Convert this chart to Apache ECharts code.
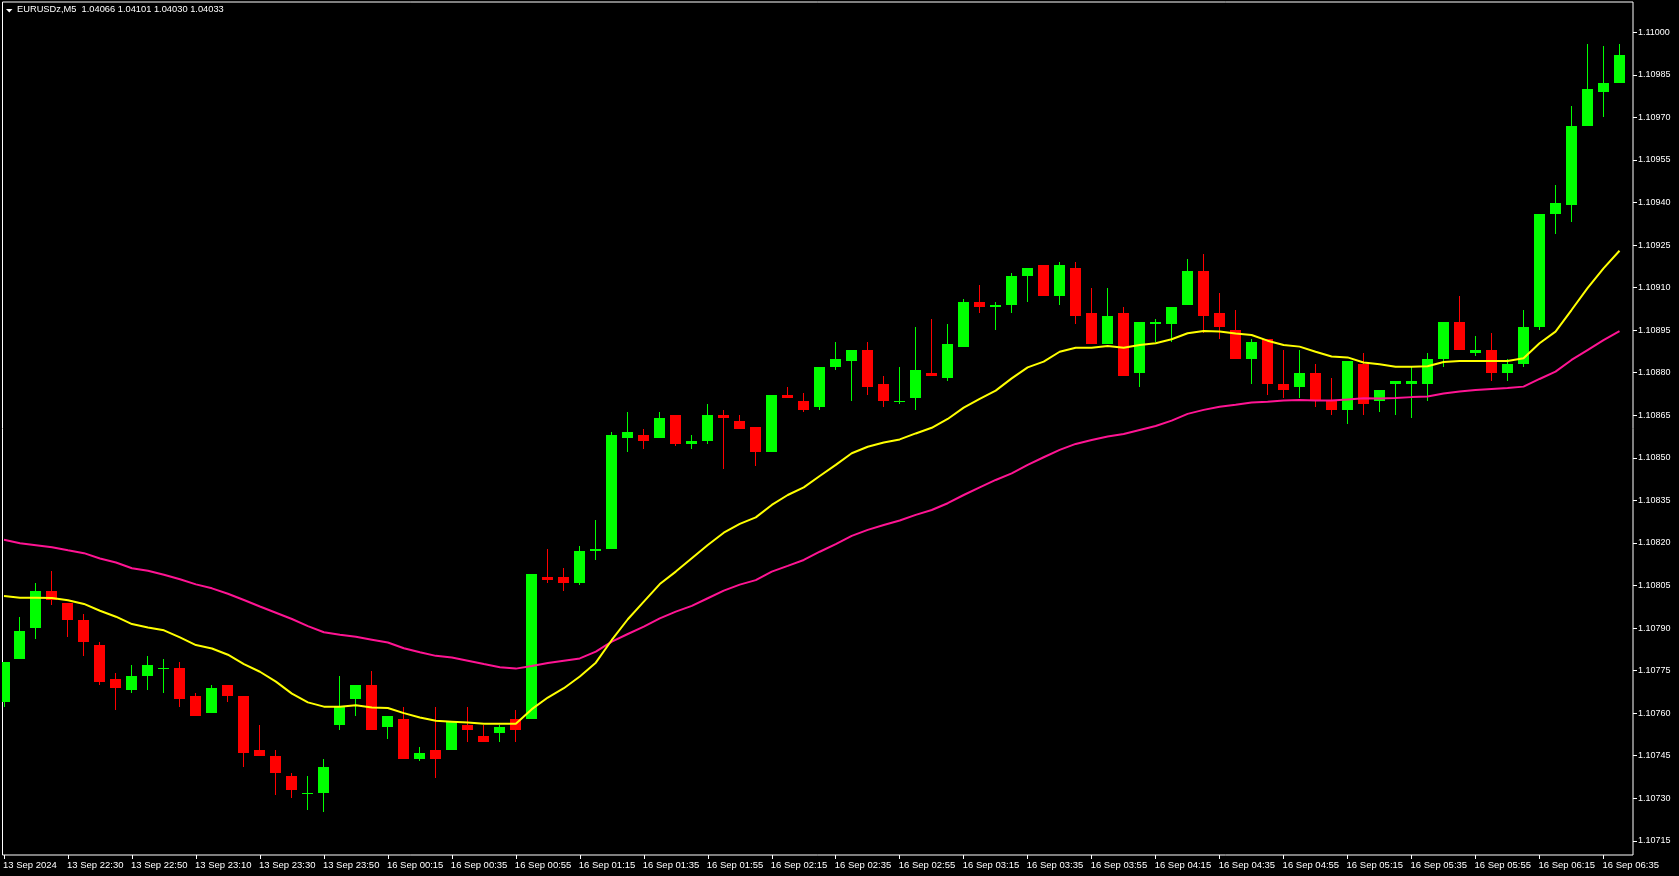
<!DOCTYPE html>
<html>
<head>
<meta charset="utf-8">
<script src="https://cdn.jsdelivr.net/npm/echarts@6.0.0/dist/echarts.min.js"></script>
<style>
html,body{margin:0;padding:0;background:#000;}
#chart{width:1679px;height:876px;}
</style>
</head>
<body>
<div id="chart"></div>
<script>
// ---- data (EURUSDz, M5) ----
const headerText = "EURUSDz,M5  1.04066 1.04101 1.04030 1.04033";

const xTickLabels = ["13 Sep 2024","13 Sep 22:30","13 Sep 22:50","13 Sep 23:10","13 Sep 23:30","13 Sep 23:50",
  "16 Sep 00:15","16 Sep 00:35","16 Sep 00:55","16 Sep 01:15","16 Sep 01:35","16 Sep 01:55","16 Sep 02:15",
  "16 Sep 02:35","16 Sep 02:55","16 Sep 03:15","16 Sep 03:35","16 Sep 03:55","16 Sep 04:15","16 Sep 04:35",
  "16 Sep 04:55","16 Sep 05:15","16 Sep 05:35","16 Sep 05:55","16 Sep 06:15","16 Sep 06:35"];
const barsPerXTick = 4;

const yTickLabels = ["1.10715","1.10730","1.10745","1.10760","1.10775","1.10790","1.10805","1.10820","1.10835",
  "1.10850","1.10865","1.10880","1.10895","1.10910","1.10925","1.10940","1.10955","1.10970","1.10985","1.11000"];

const opens = [
1.10764,1.10779,1.10790,1.10803,1.10799,1.10793,1.10784,1.10772,1.10768,1.10773,
1.10776,1.10776,1.10766,1.10760,1.10770,1.10766,1.10747,1.10745,1.10738,1.10732,
1.10732,1.10756,1.10765,1.10770,1.10755,1.10758,1.10744,1.10747,1.10747,1.10756,
1.10752,1.10753,1.10758,1.10758,1.10808,1.10808,1.10806,1.10817,1.10818,1.10857,
1.10858,1.10857,1.10865,1.10855,1.10856,1.10865,1.10863,1.10861,1.10852,1.10872,
1.10870,1.10868,1.10882,1.10884,1.10888,1.10876,1.10870,1.10871,1.10880,1.10878,
1.10889,1.10905,1.10903,1.10904,1.10914,1.10918,1.10907,1.10917,1.10901,1.10890,
1.10901,1.10880,1.10897,1.10897,1.10904,1.10916,1.10901,1.10895,1.10885,1.10892,
1.10876,1.10875,1.10880,1.10870,1.10867,1.10883,1.10870,1.10876,1.10876,1.10876,
1.10885,1.10898,1.10887,1.10888,1.10880,1.10883,1.10896,1.10936,1.10939,1.10967,
1.10979,1.10982];

const closes = [
1.10778,1.10789,1.10803,1.10800,1.10793,1.10785,1.10771,1.10769,1.10773,1.10777,
1.10776,1.10765,1.10759,1.10769,1.10766,1.10746,1.10745,1.10739,1.10733,1.10732,
1.10741,1.10762,1.10770,1.10754,1.10759,1.10744,1.10746,1.10744,1.10757,1.10754,
1.10750,1.10755,1.10754,1.10809,1.10807,1.10806,1.10817,1.10818,1.10858,1.10859,
1.10856,1.10864,1.10855,1.10856,1.10865,1.10864,1.10860,1.10852,1.10872,1.10871,
1.10867,1.10882,1.10885,1.10888,1.10875,1.10870,1.10870,1.10881,1.10879,1.10890,
1.10905,1.10903,1.10904,1.10914,1.10917,1.10907,1.10918,1.10900,1.10890,1.10900,
1.10879,1.10898,1.10898,1.10903,1.10916,1.10900,1.10896,1.10885,1.10891,1.10876,
1.10874,1.10880,1.10870,1.10867,1.10884,1.10869,1.10874,1.10877,1.10877,1.10885,
1.10898,1.10888,1.10888,1.10880,1.10883,1.10896,1.10936,1.10940,1.10967,1.10980,
1.10982,1.10992];

const lows = [
1.10762,1.10779,1.10786,1.10798,1.10787,1.10780,1.10770,1.10761,1.10767,1.10768,
1.10767,1.10762,1.10759,1.10760,1.10764,1.10741,1.10745,1.10731,1.10730,1.10726,
1.10725,1.10754,1.10759,1.10754,1.10751,1.10744,1.10743,1.10737,1.10747,1.10750,
1.10750,1.10750,1.10750,1.10758,1.10806,1.10803,1.10805,1.10814,1.10818,1.10852,
1.10853,1.10857,1.10854,1.10853,1.10855,1.10846,1.10860,1.10847,1.10852,1.10871,
1.10866,1.10867,1.10881,1.10870,1.10872,1.10868,1.10869,1.10867,1.10879,1.10877,
1.10889,1.10901,1.10895,1.10901,1.10905,1.10907,1.10904,1.10897,1.10890,1.10890,
1.10879,1.10875,1.10891,1.10891,1.10904,1.10894,1.10892,1.10885,1.10876,1.10872,
1.10871,1.10871,1.10868,1.10865,1.10862,1.10865,1.10866,1.10865,1.10864,1.10870,
1.10882,1.10888,1.10886,1.10877,1.10877,1.10882,1.10895,1.10929,1.10933,1.10967,
1.10970,1.10982];

const highs = [
1.10778,1.10794,1.10806,1.10810,1.10799,1.10795,1.10785,1.10774,1.10777,1.10780,
1.10779,1.10778,1.10767,1.10770,1.10770,1.10766,1.10756,1.10747,1.10739,1.10738,
1.10744,1.10773,1.10770,1.10775,1.10759,1.10762,1.10748,1.10762,1.10757,1.10762,
1.10756,1.10756,1.10761,1.10809,1.10818,1.10811,1.10819,1.10828,1.10859,1.10866,
1.10860,1.10866,1.10865,1.10858,1.10869,1.10867,1.10865,1.10861,1.10872,1.10875,
1.10873,1.10882,1.10891,1.10888,1.10891,1.10879,1.10882,1.10896,1.10899,1.10897,
1.10906,1.10911,1.10905,1.10915,1.10917,1.10918,1.10919,1.10919,1.10910,1.10910,
1.10903,1.10898,1.10899,1.10903,1.10920,1.10922,1.10908,1.10902,1.10892,1.10892,
1.10888,1.10888,1.10883,1.10878,1.10884,1.10887,1.10874,1.10877,1.10882,1.10887,
1.10898,1.10907,1.10893,1.10894,1.10885,1.10902,1.10936,1.10946,1.10974,1.10996,
1.10995,1.10996];

const maFast = [
1.108013,1.108007,1.108007,1.108006,1.107998,1.107985,1.107961,1.107940,1.107914,1.107902,
1.107892,1.107867,1.107840,1.107828,1.107806,1.107773,1.107746,1.107711,1.107669,1.107638,
1.107623,1.107623,1.107628,1.107620,1.107618,1.107600,1.107585,1.107573,1.107570,1.107567,
1.107563,1.107563,1.107563,1.107614,1.107655,1.107688,1.107729,1.107778,1.107858,1.107931,
1.107993,1.108055,1.108099,1.108146,1.108193,1.108236,1.108267,1.108290,1.108334,1.108369,
1.108396,1.108436,1.108475,1.108516,1.108539,1.108554,1.108565,1.108586,1.108606,1.108637,
1.108677,1.108708,1.108737,1.108780,1.108819,1.108839,1.108874,1.108888,1.108888,1.108894,
1.108888,1.108898,1.108904,1.108918,1.108939,1.108947,1.108945,1.108938,1.108933,1.108913,
1.108898,1.108892,1.108874,1.108857,1.108854,1.108836,1.108830,1.108821,1.108821,1.108823,
1.108838,1.108841,1.108841,1.108841,1.108841,1.108851,1.108904,1.108945,1.109021,1.109098,
1.109168,1.109230];

const maSlow = [
1.108211,1.108199,1.108192,1.108185,1.108174,1.108164,1.108145,1.108131,1.108111,1.108102,
1.108088,1.108072,1.108054,1.108040,1.108021,1.107999,1.107976,1.107954,1.107932,1.107907,
1.107885,1.107876,1.107869,1.107859,1.107849,1.107829,1.107815,1.107802,1.107796,1.107785,
1.107773,1.107762,1.107757,1.107766,1.107777,1.107785,1.107793,1.107817,1.107852,1.107879,
1.107905,1.107934,1.107958,1.107978,1.108005,1.108032,1.108053,1.108069,1.108099,1.108119,
1.108140,1.108169,1.108196,1.108225,1.108246,1.108263,1.108279,1.108299,1.108316,1.108340,
1.108369,1.108396,1.108422,1.108445,1.108475,1.108502,1.108528,1.108549,1.108563,1.108575,
1.108584,1.108598,1.108612,1.108631,1.108655,1.108669,1.108680,1.108687,1.108695,1.108698,
1.108702,1.108704,1.108702,1.108702,1.108706,1.108710,1.108709,1.108711,1.108714,1.108716,
1.108727,1.108734,1.108739,1.108743,1.108746,1.108751,1.108778,1.108804,1.108845,1.108880,
1.108915,1.108947];

// ---- styling ----
const UP = '#00FF00', DOWN = '#FF0000', MA_FAST = '#FFFF00', MA_SLOW = '#FF1493';
const FONT = '"Liberation Sans", Arial, sans-serif';

const candleData = opens.map((o, i) => [i, o, closes[i], lows[i], highs[i]]);
const fastData = maFast.map((v, i) => [i, v]);
const slowData = maSlow.map((v, i) => [i, v]);
const xTickValues = xTickLabels.map((_, k) => k * barsPerXTick);
const yTickValues = yTickLabels.map(s => parseFloat(s));

// plot area geometry (pixels)
const G_LEFT = 2, G_TOP = 2, G_RIGHT = 1633, G_BOTTOM = 855;
const BAR_STEP = 16, FIRST_BAR_X = 3.5;

function renderCandle(params, api) {
  const i = api.value(0), o = api.value(1), c = api.value(2), l = api.value(3), h = api.value(4);
  const pO = api.coord([i, o]), pC = api.coord([i, c]);
  const pL = api.coord([i, l]), pH = api.coord([i, h]);
  const cx = pO[0];
  const color = c >= o ? UP : DOWN;
  const top = Math.round(Math.min(pO[1], pC[1]));
  const bot = Math.round(Math.max(pO[1], pC[1]));
  const hTop = Math.round(pH[1]);
  const lBot = Math.round(pL[1]);
  return {
    type: 'group',
    children: [
      { type: 'rect', shape: { x: Math.round(cx - 0.5), y: hTop, width: 1, height: Math.max(1, lBot - hTop) },
        style: { fill: color } },
      { type: 'rect', shape: { x: Math.round(cx - 5.5), y: top, width: 11, height: Math.max(1, bot - top) },
        style: { fill: color } }
    ]
  };
}

const chart = echarts.init(document.getElementById('chart'), null, { renderer: 'canvas' });
chart.setOption({
  animation: false,
  backgroundColor: '#000000',
  grid: {
    left: G_LEFT, top: G_TOP, width: G_RIGHT - G_LEFT, height: G_BOTTOM - G_TOP,
    show: true, borderColor: '#ffffff', borderWidth: 1, backgroundColor: '#000000',
    containLabel: false
  },
  xAxis: {
    type: 'value',
    position: 'bottom',
    min: (G_LEFT - FIRST_BAR_X) / BAR_STEP,
    max: (G_RIGHT - FIRST_BAR_X) / BAR_STEP,
    axisLine: { show: false, onZero: false },
    splitLine: { show: false },
    axisTick: { show: true, customValues: xTickValues, length: 4, lineStyle: { color: '#ffffff', width: 1 } },
    axisLabel: {
      show: true, customValues: xTickValues, color: '#ffffff', fontFamily: FONT, fontSize: 9.5,
      align: 'left', margin: 5, padding: [0, 0, 0, -1],
      formatter: v => xTickLabels[Math.round(v / barsPerXTick)]
    }
  },
  yAxis: {
    type: 'value',
    position: 'right',
    min: 1.10710,
    max: 1.1101068,
    scale: true,
    axisLine: { show: false, onZero: false },
    splitLine: { show: false },
    axisTick: { show: true, customValues: yTickValues, length: 4, lineStyle: { color: '#ffffff', width: 1 } },
    axisLabel: {
      show: true, customValues: yTickValues, color: '#ffffff', fontFamily: FONT, fontSize: 9,
      align: 'left', margin: 5,
      formatter: v => v.toFixed(5)
    }
  },
  series: [
    {
      type: 'custom', name: 'candles', renderItem: renderCandle, data: candleData,
      encode: { x: 0, y: [1, 2, 3, 4] }, clip: true, z: 2
    },
    {
      type: 'line', name: 'MA slow', data: slowData, showSymbol: false, symbol: 'none', clip: true,
      lineStyle: { color: MA_SLOW, width: 2 }, z: 3
    },
    {
      type: 'line', name: 'MA fast', data: fastData, showSymbol: false, symbol: 'none', clip: true,
      lineStyle: { color: MA_FAST, width: 2 }, z: 4
    }
  ],
  graphic: [
    { type: 'polygon', shape: { points: [[6, 9], [12.5, 9], [9.25, 12.5]] }, style: { fill: '#ffffff' }, z: 10 },
    { type: 'text', left: 17, top: 5, style: { text: headerText, fill: '#ffffff', font: '9.3px ' + FONT }, z: 10 }
  ]
});
</script>
</body>
</html>
